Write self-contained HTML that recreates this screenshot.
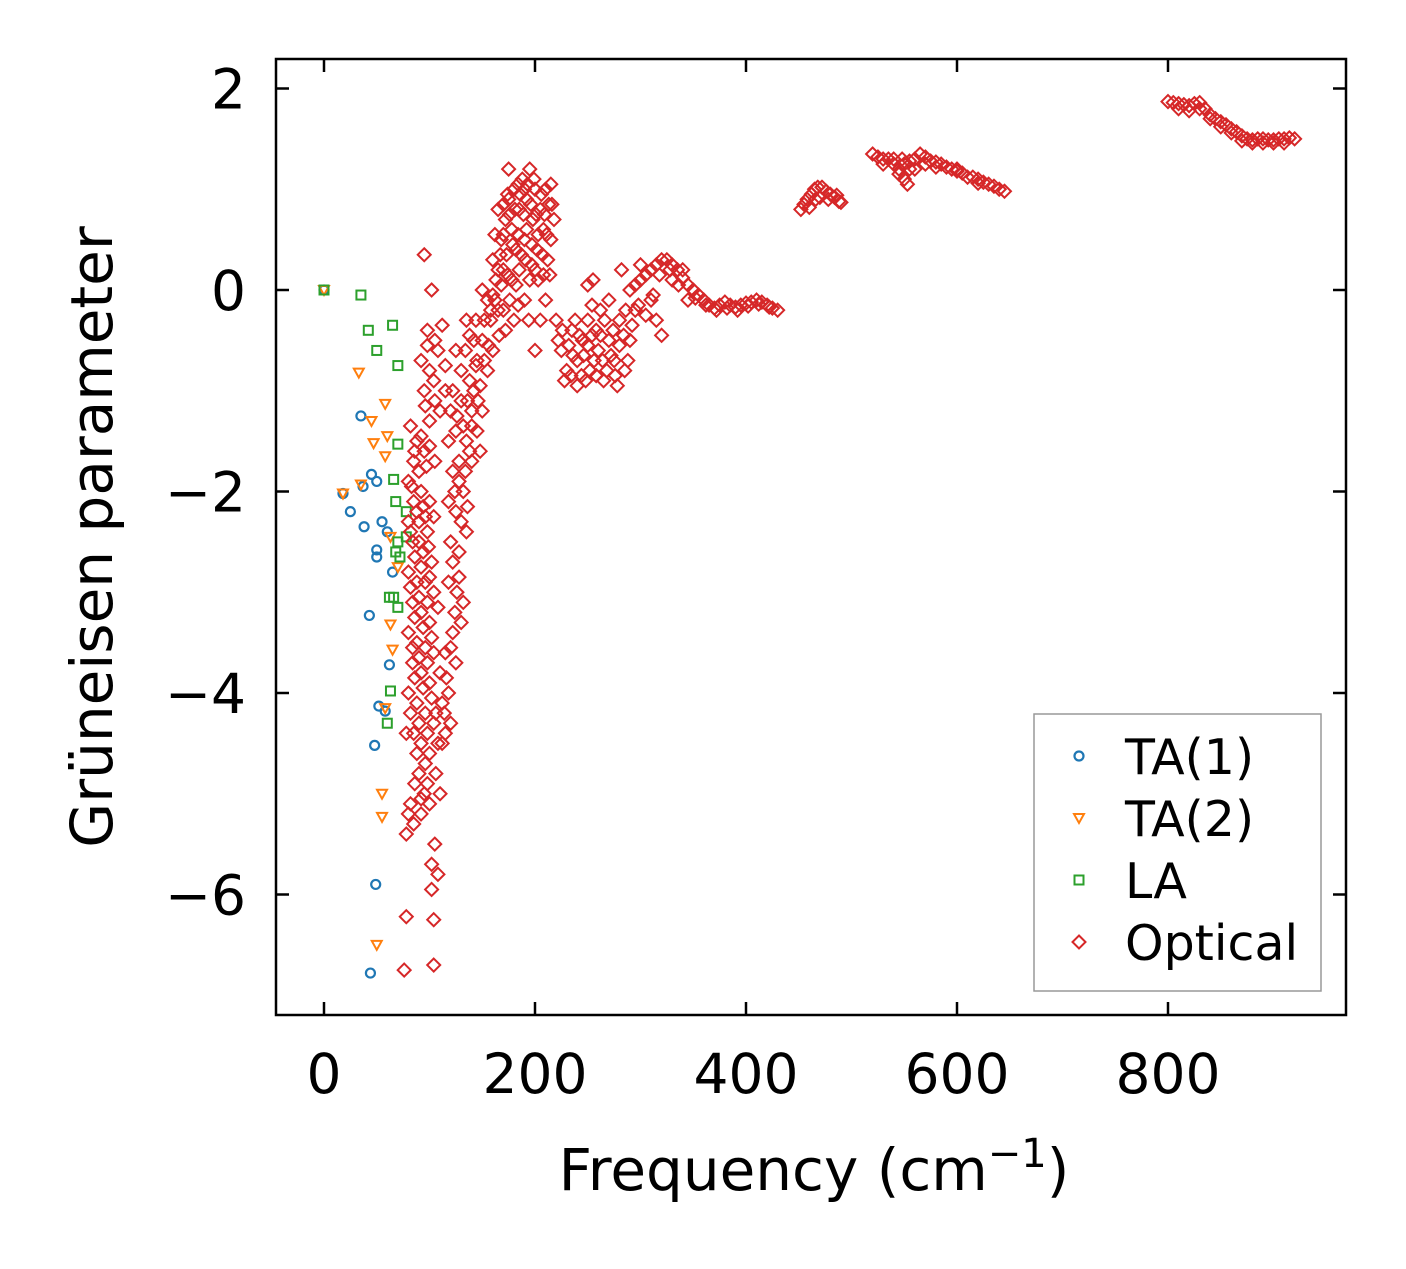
<!DOCTYPE html>
<html><head><meta charset="utf-8"><style>
body{margin:0;background:#fff;width:1406px;height:1264px;overflow:hidden}
svg text{font-family:"DejaVu Sans","Liberation Sans",sans-serif;fill:#000}
</style></head><body>
<svg id="chart" width="1406" height="1264" viewBox="0 0 1406 1264"></svg>
<script>
const xTicks=[0,200,400,600,800];
const yTicks=[2,0,-2,-4,-6];
const yTickLabels=["2","0","\u22122","\u22124","\u22126"];
const seriesNames=["TA(1)","TA(2)","LA","Optical"];
const ta1=[[0,0],[35,-1.25],[18,-2.02],[25,-2.2],[37,-1.95],[45,-1.83],[50,-1.9],[38,-2.35],[55,-2.3],[60,-2.4],[50,-2.58],[50,-2.65],[65,-2.8],[43,-3.23],[62,-3.72],[52,-4.13],[58,-4.18],[48,-4.52],[49,-5.9],[44,-6.78]];
const ta2=[[0,0],[33,-0.82],[58,-1.13],[45,-1.3],[47,-1.52],[60,-1.45],[58,-1.65],[35,-1.93],[18,-2.02],[63,-2.45],[70,-2.75],[63,-3.32],[65,-3.57],[58,-4.15],[55,-5.0],[55,-5.23],[50,-6.5]];
const la=[[0,0],[35,-0.05],[42,-0.4],[65,-0.35],[50,-0.6],[70,-0.75],[70,-1.53],[66,-1.88],[68,-2.1],[78,-2.2],[70,-2.5],[78,-2.45],[68,-2.6],[72,-2.65],[62,-3.05],[66,-3.05],[70,-3.15],[63,-3.98],[60,-4.3]];
const optical=[
[95,0.35],[102,0],[98,-0.4],[105,-0.5],[92,-0.7],[100,-0.8],[108,-0.6],[112,-0.35],[115,-0.75],[95,-1.0],[105,-1.1],[100,-1.3],[110,-1.2],[98,-0.55],[104,-0.9],[96,-1.15],
[82,-1.35],[88,-1.5],[85,-1.7],[80,-1.9],[90,-1.8],[95,-1.6],[100,-1.55],[105,-1.7],[92,-2.0],[85,-2.1],[100,-2.1],[80,-2.3],[90,-2.3],[98,-2.4],[104,-2.25],[84,-2.5],[94,-2.6],[102,-2.7],[80,-2.8],[88,-2.9],[96,-2.9],[104,-3.0],[84,-3.1],[92,-3.2],[100,-3.3],[108,-3.15],[80,-3.4],[88,-3.5],[96,-3.55],[104,-3.6],[84,-3.7],[92,-3.8],[100,-3.9],[110,-3.8],[80,-4.0],[88,-4.1],[96,-4.2],[104,-4.3],[112,-4.1],[85,-4.4],[92,-4.5],[100,-4.6],[108,-4.5],[115,-4.4],[78,-4.4],[90,-4.8],[98,-4.9],[106,-4.8],[82,-5.1],[95,-5.0],[110,-5.0],[78,-5.4],[85,-5.3],[105,-5.5],[102,-5.7],[108,-5.8],[102,-5.95],[78,-6.22],[104,-6.25],[76,-6.75],[104,-6.7],[92,-5.2],[100,-5.1],
[86,-1.6],[92,-1.45],[97,-1.75],[83,-1.95],[94,-2.15],[88,-2.2],[96,-2.25],[82,-2.4],[90,-2.5],[99,-2.55],[86,-2.65],[92,-2.75],[100,-2.85],[82,-2.95],[90,-3.05],[98,-3.1],[86,-3.25],[94,-3.35],[102,-3.45],[84,-3.55],[90,-3.65],[98,-3.7],[86,-3.85],[94,-3.95],[102,-4.05],[82,-4.2],[90,-4.3],[98,-4.4],[106,-4.2],[88,-4.6],[96,-4.7],[86,-4.9],[92,-5.05],[80,-5.2],
[115,-1.0],[120,-1.2],[118,-1.5],[125,-1.4],[130,-1.1],[122,-1.8],[128,-1.7],[135,-1.5],[118,-2.1],[125,-2.2],[132,-2.0],[140,-1.7],[120,-2.5],[128,-2.6],[135,-2.4],[118,-2.9],[126,-3.0],[132,-3.1],[122,-3.4],[130,-3.3],[115,-3.6],[125,-3.7],[118,-4.0],[120,-4.3],[112,-4.5],[125,-0.6],[130,-0.8],[138,-0.9],[140,-1.2],[145,-1.4],[148,-1.6],[150,-1.2],[142,-0.5],[135,-0.3],
[122,-1.0],[126,-1.25],[132,-1.35],[136,-1.1],[142,-1.0],[128,-1.9],[134,-1.8],[138,-1.6],[124,-2.0],[130,-2.3],[136,-2.15],[122,-2.7],[128,-2.85],[124,-3.2],[120,-3.55],[116,-3.85],[114,-4.2],[144,-0.75],[148,-0.95],[152,-0.7],[146,-1.1],[140,-1.35],[134,-0.6],[138,-0.45],[144,-0.3],
[145,-0.7],[150,-0.5],[155,-0.8],[158,-0.3],[162,-0.1],[165,0.2],[160,0.3],[168,0.5],[170,0.2],[172,0.7],[175,0.9],[178,0.6],[180,1.0],[182,0.4],[185,0.8],[188,1.1],[190,0.5],[192,0.9],[195,1.2],[198,0.7],[200,1.0],[202,0.4],[205,0.8],[208,0.6],[210,1.0],[212,0.3],[215,1.05],[218,0.7],[175,1.2],[170,-0.2],[178,0.1],[185,0.2],[195,0.1],[200,0.2],[210,-0.1],[205,-0.3],[160,-0.6],[165,-0.2],[155,-0.1],[150,0.0],[172,-0.4],[180,-0.3],[190,-0.1],[215,0.5],[165,0.8],[200,-0.6],
[152,-0.3],[156,-0.55],[160,-0.05],[163,0.1],[167,0.35],[170,0.55],[173,0.35],[176,0.75],[179,0.45],[181,0.8],[184,0.55],[186,0.95],[189,0.75],[191,0.3],[193,1.05],[196,0.85],[197,0.45],[199,1.1],[201,0.75],[203,0.55],[206,0.95],[207,0.35],[209,0.75],[211,0.55],[213,0.85],[216,0.85],[214,0.15],[168,0.05],[174,0.15],[182,0.05],[187,0.35],[192,0.6],[197,0.25],[203,0.1],[208,0.15],[166,-0.45],[176,-0.1],[184,-0.15],[194,-0.3],[174,0.95],[184,1.05],[190,1.0],[170,0.85],[162,0.55],[158,-0.2],
[220,-0.3],[225,-0.6],[230,-0.8],[235,-0.4],[240,-0.7],[245,-0.5],[250,-0.3],[255,0.1],[252,-0.8],[260,-0.6],[265,-0.9],[270,-0.5],[275,-0.7],[280,-0.3],[278,-0.95],[285,-0.8],[290,-0.5],[295,-0.2],[228,-0.9],[238,-0.3],[262,-0.2],[282,0.2],[270,-0.1],[248,-0.9],[258,-0.4],[288,-0.7],
[222,-0.5],[226,-0.4],[232,-0.55],[236,-0.65],[242,-0.45],[244,-0.85],[246,-0.65],[250,-0.55],[254,-0.45],[256,-0.7],[258,-0.85],[262,-0.45],[264,-0.7],[266,-0.3],[268,-0.8],[272,-0.65],[274,-0.4],[276,-0.85],[280,-0.55],[284,-0.45],[286,-0.2],[292,-0.35],[250,0.05],[254,-0.15],[234,-0.85],[240,-0.95],
[290,0],[295,0.05],[300,0.1],[305,0.15],[310,0.2],[315,0.25],[320,0.3],[325,0.3],[330,0.25],[335,0.2],[340,0.12],[345,0.05],[350,0],[355,-0.05],[360,-0.1],[365,-0.15],[370,-0.18],[375,-0.15],[380,-0.12],[385,-0.15],[390,-0.17],[395,-0.15],[400,-0.13],[405,-0.12],[410,-0.1],[415,-0.12],[420,-0.15],[425,-0.18],[430,-0.2],[310,-0.1],[315,-0.3],[320,-0.45],[305,-0.25],[300,0.25],[330,0.1],[340,0.2],[345,-0.1],[298,-0.15],[312,-0.05],[318,0.15],[328,0.2],[336,0.05],[352,-0.08],[362,-0.15],[372,-0.2],[382,-0.18],[392,-0.2],[402,-0.16],[412,-0.14],[422,-0.17],
[452,0.8],[455,0.85],[458,0.9],[462,0.95],[465,1.0],[468,1.02],[472,1.02],[476,0.98],[480,0.95],[484,0.92],[488,0.88],[490,0.87],[460,0.82],[470,0.92],[478,0.9],[486,0.94],[466,0.9],
[520,1.35],[525,1.32],[530,1.3],[535,1.3],[540,1.25],[545,1.2],[550,1.1],[553,1.05],[555,1.2],[560,1.3],[565,1.35],[570,1.32],[575,1.28],[580,1.27],[585,1.25],[590,1.22],[595,1.2],[600,1.18],[605,1.16],[610,1.12],[615,1.12],[620,1.1],[625,1.07],[630,1.05],[635,1.03],[640,1.0],[645,0.98],[530,1.25],[540,1.3],[550,1.25],[560,1.2],[570,1.25],[545,1.15],[555,1.28],[548,1.3],[580,1.22],[600,1.2],[620,1.06],
[800,1.87],[805,1.86],[810,1.85],[815,1.84],[820,1.83],[825,1.85],[830,1.86],[835,1.8],[840,1.74],[845,1.7],[850,1.67],[855,1.64],[860,1.6],[865,1.57],[870,1.53],[875,1.5],[880,1.49],[885,1.5],[890,1.5],[895,1.49],[900,1.49],[905,1.5],[910,1.5],[915,1.51],[920,1.5],[810,1.8],[830,1.8],[850,1.62],[870,1.48],[890,1.46],[910,1.46],[820,1.78],[840,1.7],[860,1.56],[880,1.46],[900,1.46]
];
const colors=["#1f77b4","#ff7f0e","#2ca02c","#d62728"];
const svg=document.getElementById('chart');
const NS="http://www.w3.org/2000/svg";
const X0=276,X1=1346,Y0=59,Y1=1015;
function xs(v){return 324+v*1.055;}
function ys(v){return 290-v*100.75;}
function mk(tag,attrs,parent){const e=document.createElementNS(NS,tag);for(const k in attrs)e.setAttribute(k,attrs[k]);(parent||svg).appendChild(e);return e;}
function marker(type,x,y,c,g){
  if(type===0)return mk('circle',{cx:x,cy:y,r:4.5,fill:'none',stroke:c,'stroke-width':2.2},g);
  if(type===1)return mk('polygon',{points:`${x-5},${y-4} ${x+5},${y-4} ${x},${y+5}`,fill:'none',stroke:c,'stroke-width':2},g);
  if(type===2)return mk('rect',{x:x-4.5,y:y-4.5,width:9,height:9,fill:'none',stroke:c,'stroke-width':2},g);
  return mk('polygon',{points:`${x},${y-6.5} ${x+6.5},${y} ${x},${y+6.5} ${x-6.5},${y}`,fill:'none',stroke:c,'stroke-width':2},g);
}
const all=[ta1,ta2,la,optical];
all.forEach((s,i)=>{
  const g=mk('g',{});
  
  
  s.forEach(p=>{const m=marker(i,xs(p[0]),ys(p[1]),colors[i],g);
    
    });
});
const frame=mk('rect',{x:X0,y:Y0,width:X1-X0,height:Y1-Y0,fill:'none',stroke:'#000','stroke-width':2.5});


xTicks.forEach(v=>{const x=xs(v);
  mk('line',{x1:x,y1:Y1,x2:x,y2:Y1-13,stroke:'#000','stroke-width':2.5});
  mk('line',{x1:x,y1:Y0,x2:x,y2:Y0+13,stroke:'#000','stroke-width':2.5});
  const t=mk('text',{x:x,y:1093,'font-size':55,'text-anchor':'middle'});t.textContent=v;
  
  });
yTicks.forEach((v,i)=>{const y=ys(v);
  mk('line',{x1:X0,y1:y,x2:X0+13,y2:y,stroke:'#000','stroke-width':2.5});
  mk('line',{x1:X1,y1:y,x2:X1-13,y2:y,stroke:'#000','stroke-width':2.5});
  const t=mk('text',{x:246,y:y+20,'font-size':55,'text-anchor':'end'});t.textContent=yTickLabels[i];
  
  });
const xt=mk('text',{x:814,y:1190,'font-size':58,'text-anchor':'middle'});
xt.innerHTML='Frequency (cm<tspan dy="-23" font-size="40">\u22121</tspan><tspan dy="23">)</tspan>';


const yt=mk('text',{x:0,y:0,'font-size':58,'text-anchor':'middle',transform:'translate(112,537) rotate(-90)'});
yt.textContent='Grüneisen parameter';


const lg=mk('g',{});


mk('rect',{x:1034,y:714,width:287,height:277,fill:'#fff',stroke:'#999','stroke-width':1.5},lg);
seriesNames.forEach((n,i)=>{const y=756+i*62;
  marker(i,1079,y,colors[i],lg);
  const t=mk('text',{x:1125,y:y+18,'font-size':49},lg);t.textContent=n;
  
  });
</script>
</body></html>
